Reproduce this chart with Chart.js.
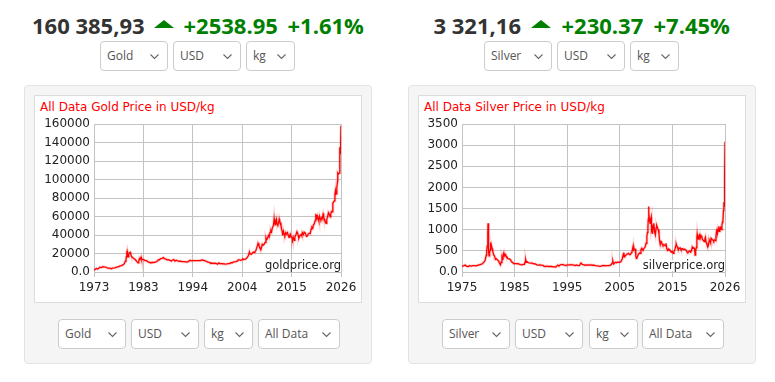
<!DOCTYPE html>
<html><head><meta charset="utf-8">
<script src="https://cdn.jsdelivr.net/npm/chart.js@4.4.1/dist/chart.umd.min.js"></script>
<style>
html,body{margin:0;padding:0;background:#fff;width:775px;height:382px;overflow:hidden;font-family:"Open Sans",sans-serif;}
.abs{position:absolute;}
.price{font-weight:700;font-size:22px;line-height:22px;white-space:nowrap;top:14px;}
.dark{color:#333;}
.green{color:#008000;}
.tri{width:0;height:0;border-left:10px solid transparent;border-right:10px solid transparent;border-bottom:8px solid #008000;top:20px;}
.sel{box-sizing:border-box;height:30px;border:1px solid #ccc;border-radius:4px;background:#fff;font-size:12px;color:#555;line-height:28px;padding-left:6px;white-space:nowrap;}
.sel svg{position:absolute;right:8px;top:12px;}
.panel{box-sizing:border-box;background:#f5f5f5;border:1px solid #e3e3e3;border-radius:4px;}
.inner{box-sizing:border-box;background:#fff;border:1px solid #dcdcdc;}
.ttl{font-family:"DejaVu Sans";font-size:12px;color:#f00;line-height:14px;white-space:nowrap;top:100px;}
.wm{font-family:"DejaVu Sans";font-size:11.5px;color:#222;background:#fff;line-height:11px;height:11px;white-space:nowrap;top:260px;}
canvas{position:absolute;}
</style>
</head>
<body>
<div id="root"></div>
<script>
// ---------- DATA ----------
const goldYears = [1973.0,1973.3,1973.5,1973.8,1974.0,1974.3,1974.6,1974.95,1975.2,1975.5,1975.8,1976.0,1976.4,1976.7,1977.0,1977.5,1977.9,1978.3,1978.6,1978.9,1979.2,1979.5,1979.7,1979.85,1979.95,1980.05,1980.1,1980.2,1980.3,1980.45,1980.6,1980.75,1980.9,1981.0,1981.2,1981.45,1981.7,1981.9,1982.2,1982.45,1982.6,1982.75,1982.9,1983.1,1983.2,1983.45,1983.7,1983.95,1984.3,1984.6,1984.95,1985.15,1985.4,1985.7,1985.95,1986.3,1986.6,1986.8,1987.0,1987.3,1987.6,1987.9,1988.1,1988.4,1988.7,1988.95,1989.3,1989.6,1989.9,1990.1,1990.4,1990.65,1990.95,1991.3,1991.6,1991.95,1992.3,1992.7,1992.95,1993.3,1993.6,1993.9,1994.2,1994.5,1994.8,1995.2,1995.5,1995.9,1996.1,1996.4,1996.7,1996.95,1997.2,1997.5,1997.8,1998.0,1998.3,1998.6,1998.9,1999.2,1999.5,1999.8,2000.0,2000.3,2000.6,2000.9,2001.2,2001.5,2001.8,2002.1,2002.4,2002.7,2002.95,2003.2,2003.5,2003.8,2003.95,2004.2,2004.5,2004.8,2004.95,2005.2,2005.5,2005.8,2005.95,2006.15,2006.35,2006.5,2006.75,2006.95,2007.2,2007.5,2007.75,2007.9,2008.1,2008.2,2008.4,2008.6,2008.8,2008.95,2009.1,2009.3,2009.5,2009.7,2009.9,2010.05,2010.2,2010.45,2010.6,2010.8,2010.95,2011.1,2011.3,2011.5,2011.65,2011.72,2011.8,2011.9,2012.0,2012.15,2012.3,2012.45,2012.6,2012.75,2012.85,2012.95,2013.1,2013.25,2013.35,2013.5,2013.65,2013.8,2013.95,2014.15,2014.3,2014.5,2014.7,2014.85,2015.0,2015.1,2015.3,2015.5,2015.6,2015.75,2015.95,2016.1,2016.3,2016.55,2016.7,2016.85,2016.95,2017.2,2017.45,2017.6,2017.7,2017.95,2018.1,2018.35,2018.6,2018.8,2018.95,2019.2,2019.4,2019.6,2019.75,2019.95,2020.1,2020.25,2020.45,2020.6,2020.65,2020.75,2020.85,2020.95,2021.1,2021.25,2021.4,2021.55,2021.7,2021.85,2021.95,2022.15,2022.2,2022.35,2022.55,2022.7,2022.8,2022.95,2023.1,2023.3,2023.4,2023.55,2023.7,2023.8,2023.95,2024.1,2024.25,2024.4,2024.55,2024.7,2024.8,2024.87,2024.95,2025.1,2025.25,2025.3,2025.45,2025.6,2025.7,2025.78,2025.82,2025.9,2025.95,2026.0];
const goldPrices = [2300,2900,3800,3200,4000,5200,4800,5800,5500,5300,4600,4200,4100,3500,4300,4500,5200,5700,6600,6900,7700,9000,11500,12800,16500,21500,22400,18500,16500,19500,20500,21200,19000,17500,16000,14800,14000,13200,11200,10000,11800,14500,13500,16000,13800,13600,13300,12200,12200,11000,10400,9700,10400,10300,10500,11000,11800,13300,13000,14500,14800,15600,14500,14000,13100,13300,12500,11900,13000,13400,11800,12700,12100,11600,11600,11300,11200,10900,10800,11400,12700,12000,12200,12400,12300,12200,12400,12400,13000,12700,12300,11900,11100,10600,10400,9300,9700,9200,9500,9200,8400,9800,9000,9000,8900,8700,8500,8700,9000,9100,10000,10000,11000,11000,11300,12000,13200,13200,12700,13300,14100,13700,13900,15000,16500,17800,21600,19500,19200,20300,21500,21000,23600,25800,29000,31000,28400,26500,24000,26500,30000,29000,30000,32000,37000,35000,36000,39500,38000,43000,45000,43500,48500,50000,57500,52000,55000,51000,54500,57000,52000,51000,52500,57000,55000,53500,52000,46000,45000,39500,44000,41000,39500,42500,41000,42500,39500,37500,39500,41000,38500,37000,35000,37500,34200,38000,40000,43500,42000,39000,36500,39500,40500,39000,42500,40500,43000,42000,38500,39000,41000,42000,41500,46500,48500,47500,51000,52000,55500,63000,60000,61500,58500,60500,58000,55000,60000,57500,56500,58500,57500,62000,63500,59000,56000,53500,52500,57500,59000,64000,63000,61500,59500,63000,65500,65000,74500,75500,77000,84000,87500,84000,84500,91000,98000,107000,106000,107000,117000,135000,128000,136000,140000,158000];
const goldYTicks = ['0.0','20000','40000','60000','80000','100000','120000','140000','160000'];
const goldXTicks = ['1973','1983','1994','2004','2015','2026'];

const silverYears = [1975.0,1975.3,1975.6,1975.9,1976.2,1976.5,1976.8,1977.1,1977.4,1977.7,1977.95,1978.2,1978.5,1978.8,1979.0,1979.3,1979.5,1979.7,1979.8,1979.9,1980.0,1980.05,1980.1,1980.2,1980.25,1980.35,1980.45,1980.55,1980.65,1980.75,1980.85,1980.95,1981.1,1981.3,1981.5,1981.7,1981.9,1982.1,1982.3,1982.45,1982.6,1982.75,1982.85,1982.95,1983.1,1983.2,1983.35,1983.5,1983.7,1983.85,1984.0,1984.2,1984.4,1984.6,1984.8,1985.0,1985.2,1985.5,1985.8,1986.0,1986.3,1986.6,1986.9,1987.1,1987.3,1987.35,1987.45,1987.6,1987.8,1988.0,1988.3,1988.6,1988.9,1989.2,1989.5,1989.8,1990.1,1990.4,1990.7,1990.95,1991.2,1991.5,1991.8,1992.1,1992.4,1992.7,1992.95,1993.2,1993.4,1993.6,1993.8,1994.0,1994.2,1994.4,1994.6,1994.9,1995.2,1995.4,1995.6,1995.9,1996.1,1996.4,1996.7,1996.95,1997.2,1997.5,1997.8,1998.0,1998.1,1998.3,1998.5,1998.8,1999.0,1999.3,1999.6,1999.8,2000.0,2000.3,2000.6,2000.9,2001.2,2001.5,2001.8,2002.1,2002.4,2002.7,2002.95,2003.2,2003.5,2003.8,2003.95,2004.1,2004.25,2004.4,2004.6,2004.8,2004.95,2005.2,2005.5,2005.8,2005.95,2006.1,2006.3,2006.38,2006.45,2006.6,2006.8,2006.95,2007.1,2007.3,2007.5,2007.7,2007.85,2007.95,2008.1,2008.2,2008.3,2008.45,2008.6,2008.7,2008.8,2008.9,2009.0,2009.2,2009.4,2009.55,2009.7,2009.85,2009.95,2010.1,2010.3,2010.5,2010.7,2010.85,2010.95,2011.05,2011.12,2011.18,2011.25,2011.38,2011.5,2011.6,2011.7,2011.75,2011.85,2011.95,2012.1,2012.2,2012.35,2012.5,2012.65,2012.75,2012.9,2013.05,2013.2,2013.3,2013.45,2013.6,2013.7,2013.85,2013.95,2014.1,2014.25,2014.45,2014.55,2014.7,2014.85,2014.95,2015.1,2015.3,2015.5,2015.6,2015.75,2015.95,2016.1,2016.3,2016.5,2016.55,2016.7,2016.85,2016.95,2017.1,2017.3,2017.45,2017.6,2017.75,2017.95,2018.1,2018.3,2018.5,2018.65,2018.8,2018.95,2019.15,2019.35,2019.5,2019.65,2019.8,2019.95,2020.1,2020.2,2020.3,2020.45,2020.55,2020.6,2020.7,2020.85,2020.95,2021.1,2021.2,2021.35,2021.5,2021.65,2021.8,2021.95,2022.1,2022.2,2022.35,2022.5,2022.65,2022.75,2022.9,2022.95,2023.1,2023.2,2023.3,2023.4,2023.55,2023.7,2023.8,2023.95,2024.1,2024.25,2024.35,2024.45,2024.55,2024.7,2024.8,2024.9,2025.0,2025.15,2025.3,2025.4,2025.5,2025.6,2025.7,2025.78,2025.85,2025.9,2025.95,2026.0];
const silverPrices = [140,145,165,135,130,150,140,150,150,145,155,165,175,185,200,240,285,400,520,620,900,1150,850,480,380,450,520,700,560,600,550,500,420,380,300,310,280,260,200,170,230,340,300,400,450,380,420,380,360,320,310,310,290,240,230,200,200,200,195,190,175,170,180,180,260,285,230,245,225,215,210,210,195,190,170,165,170,160,155,135,130,140,130,130,130,122,120,118,145,165,140,165,175,175,175,160,150,170,170,165,175,170,160,150,165,150,155,205,210,180,175,160,165,165,170,165,170,160,160,150,145,140,135,145,155,148,150,150,150,160,175,210,260,190,215,230,220,235,230,240,280,320,430,460,360,390,400,420,430,440,410,420,460,470,560,620,520,540,540,390,320,330,360,420,450,440,530,560,540,510,560,590,680,840,930,1050,1250,1550,1400,1200,1150,1250,1300,1000,1050,900,1100,1150,950,880,1050,1100,1050,1000,900,750,650,720,700,650,630,650,640,620,680,560,510,520,540,520,480,470,490,440,480,540,640,660,600,560,520,560,570,530,530,550,530,540,530,510,470,460,480,500,470,500,590,560,570,560,400,490,580,820,890,790,780,840,880,800,860,830,760,750,720,780,820,700,650,590,620,720,760,720,690,800,790,760,750,730,760,740,850,960,1000,920,1000,1080,960,1000,1050,1000,1100,1180,1220,1450,1650,1550,1850,2300,3080];
const silverYTicks = ['0.0','500','1000','1500','2000','2500','3000','3500'];
const silverXTicks = ['1975','1985','1995','2005','2015','2026'];

// ---------- PAGE ----------
const root = document.getElementById('root');
function el(cls, style, html){ const d=document.createElement('div'); d.className='abs '+cls; Object.assign(d.style, style); if(html!==undefined) d.innerHTML=html; root.appendChild(d); return d; }
const chev = '<svg width="9" height="6"><polyline points="0.5,0.5 4.5,4.5 8.5,0.5" fill="none" stroke="#666" stroke-width="1.1"/></svg>';
function sel(left, top, width, text){ el('sel', {left:left+'px', top:top+'px', width:width+'px'}, text + chev); }

// gold header
el('price dark', {left:'32px'}, '160 385,93');
el('tri', {left:'154px'});
el('price green', {left:'183.5px'}, '+2538.95');
el('price green', {left:'287.5px'}, '+1.61%');
sel(100,41,68,'Gold'); sel(173,41,68,'USD'); sel(246,41,49,'kg');
// silver header
el('price dark', {left:'433.5px'}, '3 321,16');
el('tri', {left:'531px'});
el('price green', {left:'561.5px'}, '+230.37');
el('price green', {left:'653.5px'}, '+7.45%');
sel(484,41,68,'Silver'); sel(557,41,68,'USD'); sel(630,41,49,'kg');

// panels
el('panel', {left:'24px', top:'85px', width:'348px', height:'279px'});
el('panel', {left:'408px', top:'85px', width:'348px', height:'279px'});
el('inner', {left:'34px', top:'95px', width:'328px', height:'208px'});
el('inner', {left:'418px', top:'95px', width:'328px', height:'208px'});
el('ttl', {left:'40px'}, 'All Data Gold Price in USD/kg');
el('ttl', {left:'424px'}, 'All Data Silver Price in USD/kg');

sel(58,319,68,'Gold'); sel(131,319,68,'USD'); sel(204,319,49,'kg'); sel(258,319,82,'All Data');
sel(442,319,68,'Silver'); sel(515,319,68,'USD'); sel(589,319,49,'kg'); sel(642,319,82,'All Data');

function canvas(id,left,top){ const c=document.createElement('canvas'); c.id=id; c.width=326; c.height=205; c.style.left=left+'px'; c.style.top=top+'px'; root.appendChild(c); return c; }
const cg = canvas('cg',35,96);
const cs = canvas('cs',419,96);
el('wm', {right:(775-341)+'px'}, 'goldprice.org');
el('wm', {right:(775-725)+'px'}, 'silverprice.org');

// ---------- CHARTS ----------
const gridColor = '#c3c3c3';
function makeChart(c, years, prices, yTicks, yStep, xTicks, leftW){
  const yMax = yStep*(yTicks.length-1);
  const xMin = +xTicks[0], xMax = +xTicks[xTicks.length-1];
  const pts = years.map((x,i)=>({x:x, y:prices[i]}));
  return new Chart(c, {
    type:'line',
    data:{datasets:[
      {data: pts, borderColor:'#ff0000', borderWidth:1.3, pointRadius:0, tension:0, fill:false},
      {data: pts, borderColor:'rgba(255,0,0,0.18)', borderWidth:3, pointRadius:0, tension:0, fill:false}
    ]},
    options:{
      responsive:false, animation:false, devicePixelRatio:1,
      layout:{padding:{left:0,right:20,top:28,bottom:4}},
      plugins:{legend:{display:false}, tooltip:{enabled:false}, title:{display:false}},
      scales:{
        x:{type:'linear', min:xMin, max:xMax,
           afterBuildTicks:(s)=>{ s.ticks = xTicks.map((t,i)=>({value: xMin+(xMax-xMin)*i/(xTicks.length-1)})); },
           afterFit:(s)=>{ s.height = 25; },
           grid:{color:gridColor, lineWidth:1, tickLength:5, drawTicks:true},
           border:{display:true, color:gridColor},
           ticks:{autoSkip:false, maxRotation:0, padding:4, color:'#222', font:{family:'DejaVu Sans', size:12}, callback:(v,i)=>xTicks[i]}},
        y:{type:'linear', min:0, max:yMax,
           afterBuildTicks:(s)=>{ s.ticks = yTicks.map((t,i)=>({value:i*yStep})); },
           afterFit:(s)=>{ s.width = leftW; },
           grid:{color:gridColor, lineWidth:1, drawTicks:false},
           border:{display:true, color:gridColor},
           ticks:{autoSkip:false, padding:4, color:'#222', font:{family:'DejaVu Sans', size:12}, callback:(v,i)=>yTicks[i]}}
      }
    }
  });
}
makeChart(cg, goldYears, goldPrices, goldYTicks, 20000, goldXTicks, 59);
makeChart(cs, silverYears, silverPrices, silverYTicks, 500, silverXTicks, 43);
</script>
</body></html>
